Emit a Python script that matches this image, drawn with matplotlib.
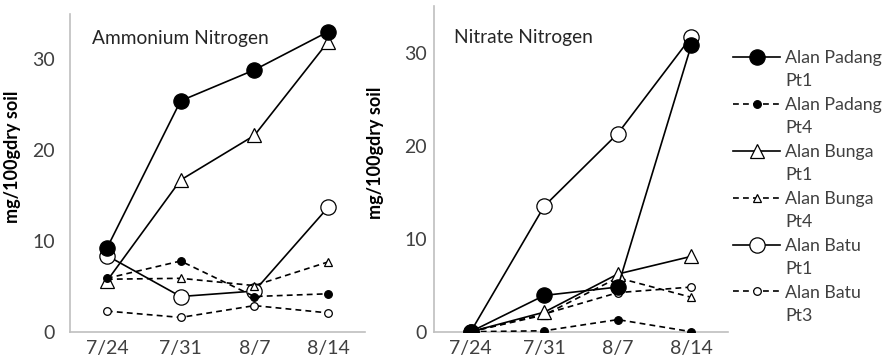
import matplotlib
matplotlib.use("Agg")
import matplotlib.pyplot as plt
from matplotlib.lines import Line2D

plt.rcParams['font.family'] = ['Lato', 'DejaVu Sans']

dates = ["7/24", "7/31", "8/7", "8/14"]

# ammonium nitrogen (mg/100g dry soil)
nh4_padang_pt1 = [9.2, 25.4, 28.8, 33.0]
nh4_padang_pt4 = [5.9, 7.8, 3.9, 4.2]
nh4_bunga_pt1 = [5.6, 16.7, 21.6, 31.9]
nh4_bunga_pt4 = [5.8, 5.9, 5.1, 7.7]
nh4_batu_pt1 = [8.4, 3.9, 4.5, 13.7]
nh4_batu_pt3 = [2.3, 1.6, 2.9, 2.1]

# nitrate nitrogen (mg/100g dry soil)
no3_padang_pt1 = [0.0, 3.9, 4.8, 30.8]
no3_padang_pt4 = [0.0, 0.1, 1.3, 0.0]
no3_bunga_pt1 = [0.0, 2.1, 6.2, 8.1]
no3_bunga_pt4 = [0.0, 1.8, 5.8, 3.7]
no3_batu_pt1 = [0.0, 13.5, 21.3, 31.7]
no3_batu_pt3 = [0.0, 1.9, 4.2, 4.8]

sites = ["Alan Padang", "Alan Padang", "Alan Bunga",
         "Alan Bunga", "Alan Batu", "Alan Batu"]
points = ["Pt1", "Pt4", "Pt1", "Pt4", "Pt1", "Pt3"]

# marker, filled?, big?, dashed?
styles = [("o", True, True, False), ("o", True, False, True),
          ("^", False, True, False), ("^", False, False, True),
          ("o", False, True, False), ("o", False, False, True)]

fig = plt.figure(figsize=(8.82, 3.63), dpi=100)
ax1 = fig.add_axes([70/882, 31/363, 295/882, 318.5/363])
ax2 = fig.add_axes([434/882, 31.3/363, 294/882, 325.5/363])

x = [0.5, 1.5, 2.5, 3.5]
txt = '#404040'

def draw(ax, series):
    handles = []
    for i, (vals, (mk, filled, big, dashed)) in enumerate(zip(series, styles)):
        ms = 11 if big else 5.5
        if mk == "^":
            ms = 10.5 if big else 5.5
        # first series ends up on top
        h, = ax.plot(x, vals, color='black', lw=1.2,
                     ls=(0, (3.5, 2.5)) if dashed else '-',
                     marker=mk, ms=ms, mew=0.9, mec='black',
                     mfc='black' if filled else 'white', zorder=10 - i)
        handles.append(h)
    ax.set_xlim(0, 4)
    ax.set_ylim(0, 35)
    ax.set_yticks([0, 10, 20, 30])
    ax.set_xticks(x)
    ax.set_xticklabels(dates)
    for s in ['top', 'right']:
        ax.spines[s].set_visible(False)
    for s in ['left', 'bottom']:
        ax.spines[s].set_color('#bfbfbf')
        ax.spines[s].set_linewidth(1.2)
    ax.tick_params(length=0, labelsize=14, labelcolor=txt)
    ax.tick_params(axis='x', pad=6)
    ax.set_ylabel("mg/100gdry soil", fontsize=13, fontweight='bold')
    return handles

hs = draw(ax1, [nh4_padang_pt1, nh4_padang_pt4, nh4_bunga_pt1,
                nh4_bunga_pt4, nh4_batu_pt1, nh4_batu_pt3])
draw(ax2, [no3_padang_pt1, no3_padang_pt4, no3_bunga_pt1,
           no3_bunga_pt4, no3_batu_pt1, no3_batu_pt3])

ax1.tick_params(axis='y', pad=11)
ax2.tick_params(axis='y', pad=5)
ax1.yaxis.set_label_coords(-0.165, 0.55)
ax2.yaxis.set_label_coords(-0.17, 0.55)

ax1.text(0.075, 0.92, "Ammonium Nitrogen", transform=ax1.transAxes,
         fontsize=13.8, va='center', color='#262626')
ax2.text(0.068, 0.905, "Nitrate Nitrogen", transform=ax2.transAxes,
         fontsize=13.8, va='center', color='#262626')

# legend: handle on the first line, point name on its own line below
blank = Line2D([], [], ls='none')
leg_h, leg_l = [], []
for h, s, p in zip(hs, sites, points):
    leg_h += [h, blank]
    leg_l += [s, p]

fig.legend(leg_h, leg_l, loc='upper left', bbox_to_anchor=(733/882, 1 - 50/363),
           frameon=False, fontsize=12.8, handlelength=2.65, handletextpad=0.28,
           labelspacing=0.42, labelcolor=txt, borderaxespad=0, borderpad=0)

fig.savefig("out.png", dpi=100)
